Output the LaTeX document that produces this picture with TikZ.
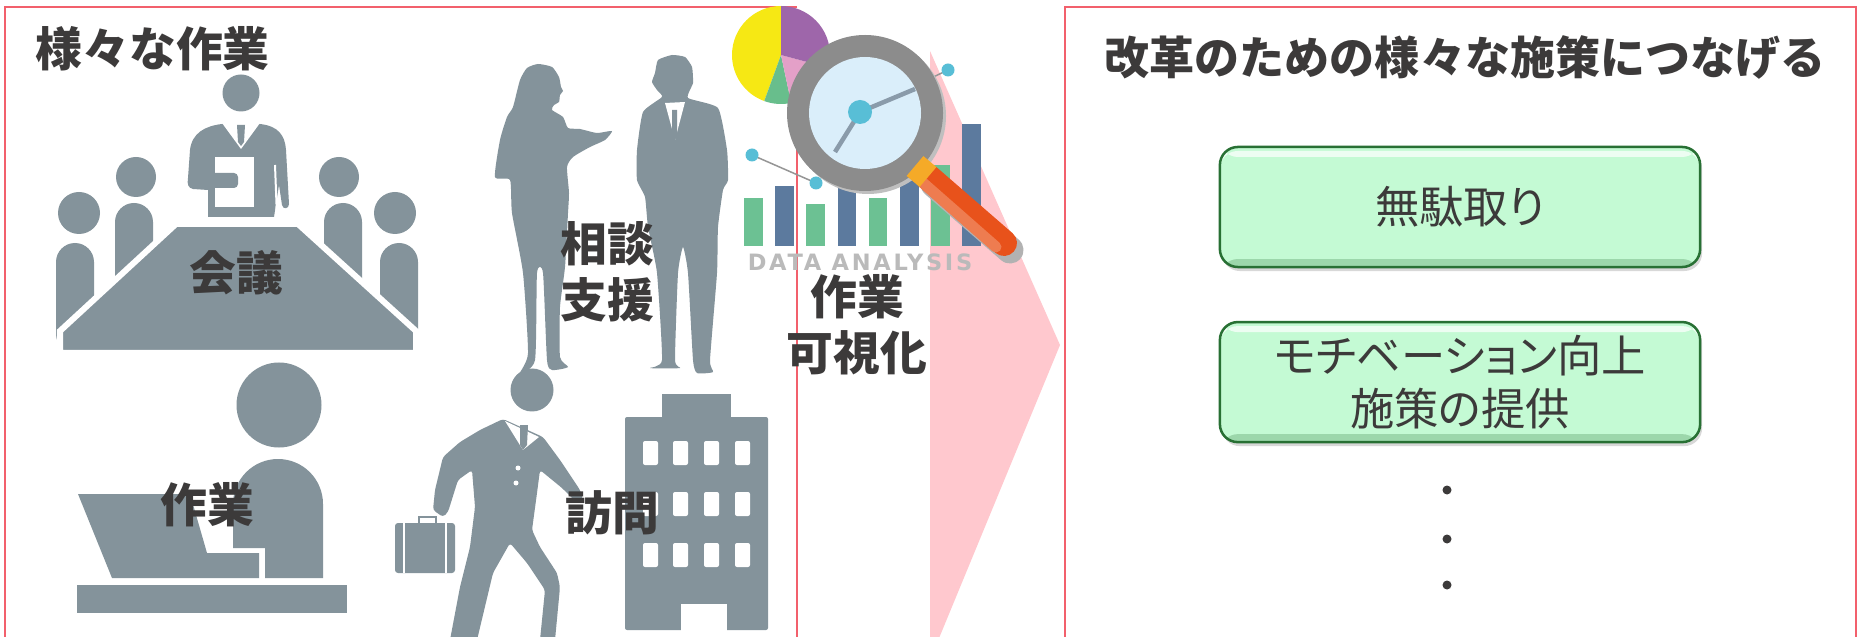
\documentclass[tikz,border=0pt]{standalone}
\usepackage{fontspec}
\setmainfont{Noto Sans CJK JP}
\newfontfamily\boxfont{Noto Sans CJK JP}[RawFeature=+palt]
\newfontfamily\datafont{DejaVu Sans}[LetterSpace=12]
\usetikzlibrary{shadows}
\definecolor{framered}{RGB}{242,96,108}
\definecolor{arrowpink}{RGB}{255,200,206}
\definecolor{iconcolor}{RGB}{132,147,155}
\definecolor{labelcolor}{RGB}{60,58,58}
\definecolor{boxgreen}{RGB}{196,250,212}
\definecolor{boxedge}{RGB}{40,112,52}
\definecolor{pieyellow}{RGB}{246,232,20}
\definecolor{piepurple}{RGB}{158,102,170}
\definecolor{piepink}{RGB}{228,160,200}
\definecolor{piegreen}{RGB}{104,190,140}
\definecolor{bargreen}{RGB}{108,193,147}
\definecolor{barblue}{RGB}{92,122,158}
\definecolor{dotcyan}{RGB}{88,190,214}
\definecolor{linegray}{RGB}{150,150,150}
\definecolor{ringgray}{RGB}{140,140,140}
\definecolor{glassblue}{RGB}{218,238,250}
\definecolor{innerline}{RGB}{138,155,170}
\definecolor{handleorange}{RGB}{232,82,27}
\definecolor{handlelight}{RGB}{238,124,80}
\definecolor{collaryellow}{RGB}{245,170,40}
\definecolor{datagray}{RGB}{186,186,186}

\begin{document}
\begin{tikzpicture}[x=0.01cm,y=-0.01cm,node distance=1.75cm,
    frame/.style={draw=framered,line width=0.028cm},
    iconlabel/.style={text=labelcolor,font=\bfseries\fontsize{13.3}{16}\selectfont,align=center,inner sep=0pt},
    paneltitle/.style={text=labelcolor,font=\bfseries\fontsize{12.8}{15}\selectfont,inner sep=0pt},
    policybox/.style={draw=boxedge,line width=0.025cm,fill=boxgreen,rounded corners=0.18cm,
      minimum width=4.8cm,minimum height=1.2cm,align=center,text=labelcolor,
      font=\boxfont\fontsize{12.6}{15}\selectfont,
      path picture={
        \fill[white,opacity=0.7] ([yshift=-0.04cm]path picture bounding box.north west)
          rectangle ([yshift=-0.1cm]path picture bounding box.north east);
        \fill[boxedge,opacity=0.25] ([yshift=0.08cm]path picture bounding box.south west)
          rectangle (path picture bounding box.south east);},
      drop shadow={opacity=0.3,shadow xshift=0.02cm,shadow yshift=-0.04cm}}]
  \useasboundingbox[fill=white] (0,0) rectangle (1858,637);

  % arrow between the panels
  \fill[arrowpink] (930,51) -- (1060,345) -- (930,660) -- cycle;

  % panel frames
  \draw[frame] (797,7) -- (5,7) -- (5,660);
  \draw[frame] (797,150) -- (797,660);
  \draw[frame] (1065,660) -- (1065,7) -- (1856,7) -- (1856,660);

  \begin{scope}[fill=iconcolor]
    % meeting
    \foreach \hx/\hy/\r/\bx/\by in {136/177/20/115/203, 79/213/21/56/243,
                                    339/177/20/324/203, 395/213/21/380/243}
      {\fill (\hx,\hy) circle (\r);
       \fill[rounded corners=0.19cm] (\bx,\by) rectangle ++(38,110);}
    \fill (241,93) circle (18.5);
    \fill (208,217) -- (208,190) -- (193,189) .. controls (188,188) and (187,184) .. (188,178)
      -- (190,150) .. controls (192,133) and (205,126) .. (222,124) -- (260,124)
      .. controls (278,126) and (285,135) .. (286,150) -- (289,204)
      .. controls (289,209) and (283,210) .. (282,205) -- (279,185) -- (274,217) -- cycle;
    \fill[white] (222,123) -- (241,149) -- (260,123) -- cycle;
    \fill (237,125) -- (245,125) -- (244,142) -- (241,146) -- (238,142) -- cycle;
    \draw[white,line width=0.02cm] (275,165) -- (277,217);
    \fill[white] (215,157) rectangle (254,207);
    \fill[rounded corners=0.04cm] (193,173) rectangle (238,188);
    \filldraw[draw=white,line width=0.06cm] (176,224) -- (298,224) -- (416,331) -- (416,353)
      -- (60,353) -- (60,331) -- cycle;

    % consultation
    \fill plot[smooth cycle,tension=0.35] coordinates {(538,64) (552,67) (559,77) (561,87)
      (563,91) (560,95) (559,102) (554,105) (552,110) (563,117) (568,128) (580,129)
      (597,133) (612,131) (605,140) (590,147) (573,157) (567,167) (569,193) (568,213)
      (565,267) (560,307) (560,357) (568,367) (552,370) (547,360) (543,273) (537,273)
      (535,360) (520,373) (528,353) (523,273) (512,213) (510,180) (495,177) (500,140)
      (507,117) (513,107) (520,80) (527,68)};
    \fill plot[smooth cycle,tension=0.3] coordinates {(672,55) (685,57) (692,67) (693,83)
      (688,98) (718,108) (727,150) (728,180) (723,190) (718,227) (717,273) (710,360)
      (713,372) (697,373) (693,360) (688,273) (683,247) (678,273) (675,360) (680,368)
      (650,368) (662,360) (657,273) (648,227) (645,197) (637,180) (637,150) (643,112)
      (662,97) (657,90) (652,82) (655,73) (658,60)};
    \fill[white] (665,103) -- (685,102) -- (675,140) -- cycle;
    \fill (672,110) -- (677,110) -- (677,137) -- (674,141) -- (672,137) -- cycle;

    % desk work
    \fill (279,405) circle (42.5);
    \fill (233,548) -- (233,504) arc[start angle=180,end angle=360,radius=45]
      -- (323,578) -- (265,578) -- (265,548) -- cycle;
    \fill (78,494) -- (190,494) -- (207,553) -- (259,553) -- (259,578) -- (112,578) -- cycle;
    \fill (77,585) rectangle (347,613);

    % visit
    \fill (532,390) circle (21.5);
    \fill[rounded corners=0.03cm] (503,419) -- (543,437) -- (560,460) -- (580,490)
      -- (583,498) -- (577,503) -- (562,488) -- (540,470) -- (537,493) -- (532,530)
      -- (540,547) -- (557,573) -- (560,587) -- (555,640) -- (540,640) -- (545,590)
      -- (527,563) -- (510,543) -- (493,573) -- (477,640) -- (450,640) -- (460,587)
      -- (470,547) -- (475,507) -- (472,470) -- (458,480) -- (448,512) -- (443,517)
      -- (433,510) -- (435,490) -- (443,457) -- (460,442) -- (480,430) -- cycle;
    \fill[white] (505,421) -- (523,450) -- (539,437) -- cycle;
    \fill (520,425) -- (528,425) -- (527,445) -- (523,450) -- (520,445) -- cycle;
    \fill[white] (518,468) circle (2.5) (516,483) circle (2.5);
    \fill[rounded corners=0.03cm] (395,523) rectangle (455,573);
    \draw[iconcolor,line width=0.025cm] (419,524) -- (419,517) -- (436,517) -- (436,524);
    \draw[white,line width=0.012cm] (404,523) -- (404,573) (446,523) -- (446,573);

    % building
    \fill (662,394) rectangle (731,420);
    \fill[rounded corners=0.02cm] (625,417) rectangle (768,630);
    \foreach \wy in {441,492,543}
      \foreach \wx in {643,673,704,735}
        \fill[white,rounded corners=0.02cm] (\wx,\wy) rectangle ++(15,24);
    \fill[white] (681,604) rectangle (727,632);
  \end{scope}

  % data analysis: pie and bars
  \begin{scope}[shift={(781,55)},y=0.01cm]
    \fill[pieyellow] (0,0) -- (90:49) arc[start angle=90,end angle=250,radius=49] -- cycle;
    \fill[piegreen] (0,0) -- (250:49) arc[start angle=250,end angle=282,radius=49] -- cycle;
    \fill[piepink] (0,0) -- (282:49) arc[start angle=282,end angle=345,radius=49] -- cycle;
    \fill[piepurple] (0,0) -- (345:49) arc[start angle=345,end angle=450,radius=49] -- cycle;
  \end{scope}
  \foreach \i/\top/\col in {0/198/bargreen,1/186/barblue,2/204/bargreen,3/172/barblue,
                            4/198/bargreen,5/149/barblue,6/165/bargreen,7/124/barblue}
    \fill[\col] ({744+31.2*\i},246) rectangle ++(18.5,{\top-246});
  \node[text=datagray,font=\datafont\bfseries\fontsize{6.4}{8}\selectfont,inner sep=0pt]
    (datatext) at (860,262) {DATA ANALYSIS};
  \draw[linegray,line width=0.015cm] (752,155) -- (816,183) (860,112) -- (948,70);
  \fill[dotcyan] (752,155) circle (6.5) (816,183) circle (6.5) (948,70) circle (6.5);

  % magnifier
  \draw[black!30,line width=0.27cm,line cap=round] (934,184) -- (1010,250);
  \fill[black!25] (868,116) circle (78);
  \fill[ringgray] (865,113) circle (78);
  \fill[glassblue] (865,113) circle (56);
  \draw[innerline,line width=0.045cm] (835,152) -- (860,112) -- (915,89);
  \fill[dotcyan] (860,112) circle (12);
  \draw[handleorange,line width=0.26cm,line cap=round] (928,177) -- (1004,243);
  \draw[handlelight,line width=0.11cm,line cap=round] (922,182) -- (996,247);
  \draw[collaryellow,line width=0.26cm] (915,166) -- (928,177);

  % labels on the left panel
  \node[paneltitle,anchor=west,font=\bfseries\fontsize{13.3}{16}\selectfont] (worktitle) at (35,49) {様々な作業};
  \node[iconlabel] (meeting) at (236,273) {会議};
  \node[iconlabel] (consult) at (607,272) {相談\\支援};
  \node[iconlabel] (deskwork) at (207,505) {作業};
  \node[iconlabel] (visit) at (612,513) {訪問};
  \node[iconlabel] (visualize) at (857,325) {作業\\可視化};

  % right panel
  \node[paneltitle] (reformtitle) at (1465,57) {改革のための様々な施策につなげる};
  \node[policybox] (waste) at (1460,207) {無駄取り};
  \node[policybox,below of=waste] (motivation) {モチベーション向上\\施策の提供};
  \foreach \dy in {490,539,585}
    \fill[labelcolor] (1447,\dy) circle (4.5);
\end{tikzpicture}
\end{document}
